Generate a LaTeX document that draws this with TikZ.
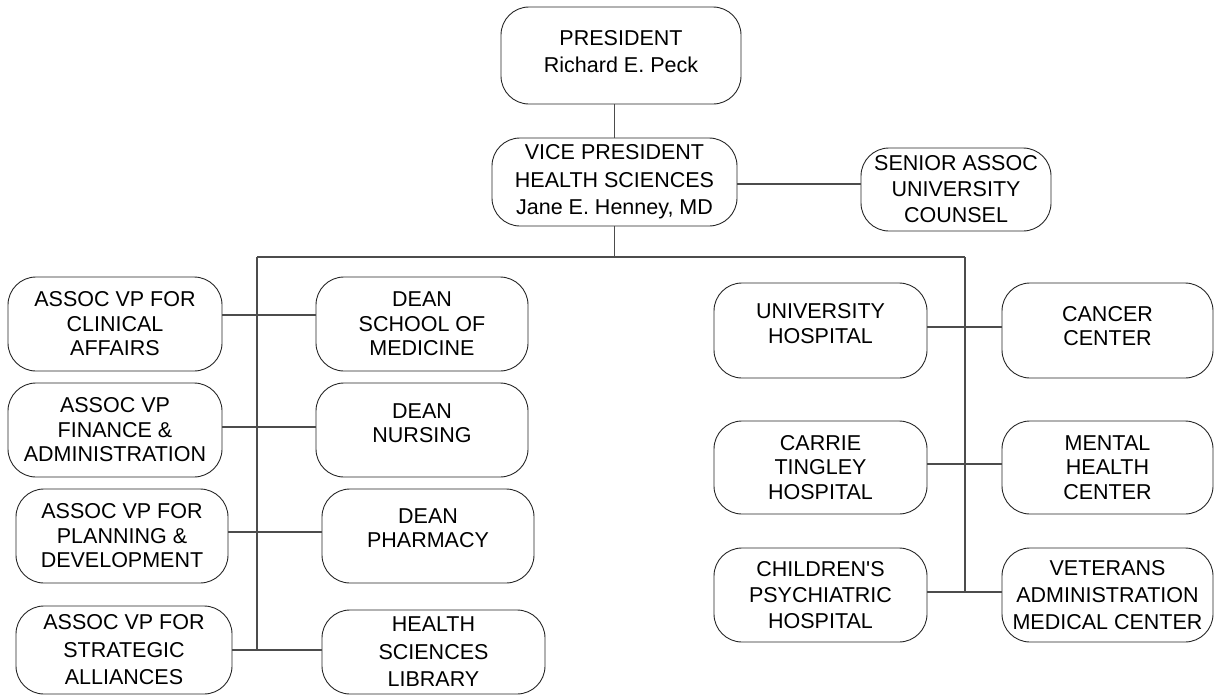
\documentclass[tikz,border=0pt]{standalone}
\usepackage{fontspec}
\setmainfont{Liberation Sans}
\begin{document}
\begin{tikzpicture}[x=1pt,y=-1pt,
  box/.style={draw=black!85, line width=0.9pt, rounded corners=28pt, align=center, inner sep=0pt, font=\fontsize{21.5}{24.5}\selectfont},
  wide/.style={font=\fontsize{21.5}{27.5}\selectfont},
  raised/.style={text depth=#1},
  link/.style={draw=black!70, line width=1.3pt}]
\clip (0,0) rectangle (1214,696);
% top
\node[box, wide, raised=8pt, minimum width=240pt, minimum height=97pt] (P) at (621,55.5) {PRESIDENT\\Richard E. Peck};
\node[box, wide, minimum width=245pt, minimum height=88pt] (VP) at (614.5,182) {VICE PRESIDENT\\HEALTH SCIENCES\\Jane E. Henney, MD};
\node[box, font=\fontsize{21.5}{26}\selectfont, minimum width=190pt, minimum height=83pt] (SA) at (956,189.5) {SENIOR ASSOC\\UNIVERSITY\\COUNSEL};
% left column
\node[box, minimum width=214pt, minimum height=94pt] (A1) at (115,324) {ASSOC VP FOR\\CLINICAL\\AFFAIRS};
\node[box, minimum width=214pt, minimum height=94pt] (A2) at (115,430) {ASSOC VP\\FINANCE \&\\ADMINISTRATION};
\node[box, minimum width=212pt, minimum height=94pt] (A3) at (122,536) {ASSOC VP FOR\\PLANNING \&\\DEVELOPMENT};
\node[box, wide, minimum width=216pt, minimum height=88pt] (A4) at (124,650) {ASSOC VP FOR\\STRATEGIC\\ALLIANCES};
% deans
\node[box, minimum width=212pt, minimum height=94pt] (D1) at (422,324) {DEAN\\SCHOOL OF\\MEDICINE};
\node[box, raised=14pt, minimum width=212pt, minimum height=94pt] (D2) at (422,430) {DEAN\\NURSING};
\node[box, raised=16pt, minimum width=212pt, minimum height=94pt] (D3) at (428,536) {DEAN\\PHARMACY};
\node[box, wide, minimum width=223pt, minimum height=84pt] (D4) at (433.5,652) {HEALTH\\SCIENCES\\LIBRARY};
% right
\node[box, raised=14pt, minimum width=213pt, minimum height=95pt] (UH) at (820.5,330.5) {UNIVERSITY\\HOSPITAL};
\node[box, raised=9pt, minimum width=211pt, minimum height=95pt] (CC) at (1107.5,330.5) {CANCER\\CENTER};
\node[box, minimum width=213pt, minimum height=93pt] (CT) at (820.5,467.5) {CARRIE\\TINGLEY\\HOSPITAL};
\node[box, minimum width=211pt, minimum height=93pt] (MH) at (1107.5,467.5) {MENTAL\\HEALTH\\CENTER};
\node[box, font=\fontsize{21.5}{26}\selectfont, minimum width=213pt, minimum height=94pt] (CP) at (820.5,595) {CHILDREN\textquotesingle S\\PSYCHIATRIC\\HOSPITAL};
\node[box, font=\fontsize{21.5}{27}\selectfont, minimum width=211pt, minimum height=94pt] (VA) at (1107.5,595) {VETERANS\\ADMINISTRATION\\MEDICAL CENTER};
% coordinates
\coordinate (busL) at (257,257);
\coordinate (busR) at (965,257);
\coordinate (s1) at (0,184);
\coordinate (l1) at (257,315);
\coordinate (l2) at (257,427);
\coordinate (l3) at (257,532);
\coordinate (l4) at (257,650);
\coordinate (r1) at (965,327);
\coordinate (r2) at (965,464);
\coordinate (r3) at (965,592);
% connectors
\draw[link] (VP.north) -- (VP.north |- P.south);
\draw[link] (VP.east |- s1) -- (SA.west |- s1);
\draw[link] (VP.south) -- (VP.south |- busL);
\draw[link] (busL) -- (busR);
\draw[link] (busL) -- (l4);
\draw[link] (busR) -- (r3);
\draw[link] (A1.east |- l1) -- (D1.west |- l1);
\draw[link] (A2.east |- l2) -- (D2.west |- l2);
\draw[link] (A3.east |- l3) -- (D3.west |- l3);
\draw[link] (A4.east |- l4) -- (D4.west |- l4);
\draw[link] (UH.east |- r1) -- (CC.west |- r1);
\draw[link] (CT.east |- r2) -- (MH.west |- r2);
\draw[link] (CP.east |- r3) -- (VA.west |- r3);
\end{tikzpicture}
\end{document}
